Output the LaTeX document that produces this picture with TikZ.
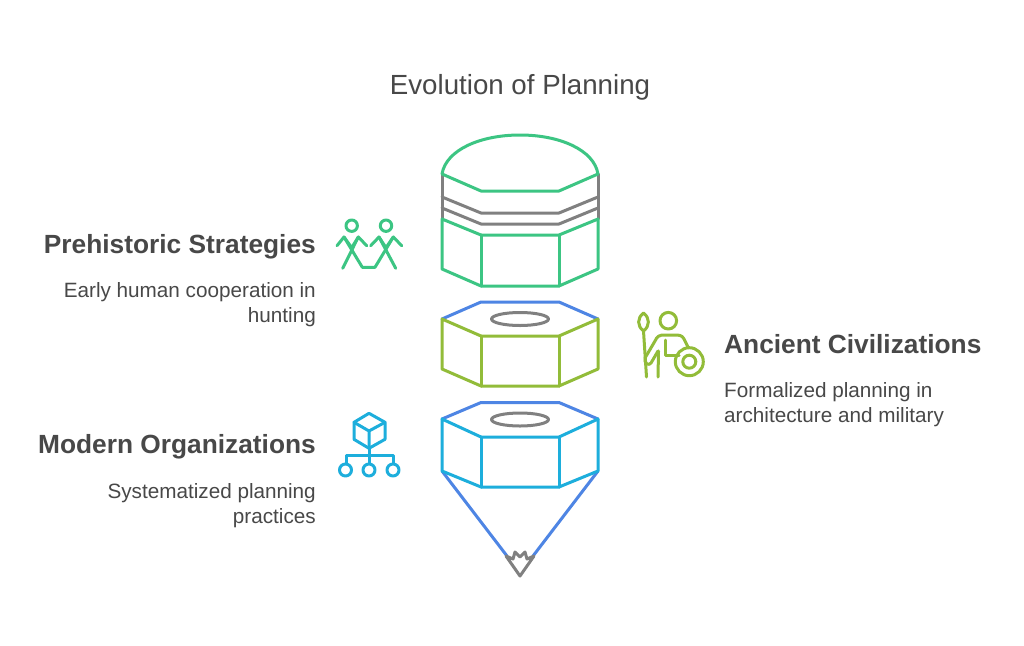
\documentclass[tikz,border=0pt]{standalone}
\usepackage{fontspec}
\setmainfont{Liberation Sans}
\definecolor{cgreen}{HTML}{3CC583}
\definecolor{cgray}{HTML}{808080}
\definecolor{cblue}{HTML}{4E85E4}
\definecolor{colive}{HTML}{92BC39}
\definecolor{ccyan}{HTML}{1DAEDC}
\definecolor{ctext}{HTML}{484848}
\tikzset{
 ln/.style={line width=3pt,line join=round,line cap=round},
 ic/.style={line width=3pt,line join=round,line cap=round},
 titletext/.style={text=ctext,font=\fontsize{27.7}{30}\selectfont,inner sep=0pt,anchor=base},
 headtext/.style={text=ctext,font=\fontsize{26.3}{30}\selectfont\bfseries,inner sep=0pt},
 bodytext/.style={text=ctext,font=\fontsize{20.7}{25}\selectfont,inner sep=0pt},
}
\begin{document}
\begin{tikzpicture}[x=1pt,y=-1pt]
\useasboundingbox (0,0) rectangle (1024,645);
\fill[white] (0,0) rectangle (1024,645);
% text
\node[titletext] (title) at (520,94) {Evolution of Planning};
\node[headtext,anchor=base east] (h1) at (316,253) {Prehistoric Strategies};
\node[bodytext,anchor=base east] (b1a) at (316,297) {Early human cooperation in};
\node[bodytext,anchor=base east] (b1b) at (316,322) {hunting};
\node[headtext,anchor=base west] (h2) at (724,353) {Ancient Civilizations};
\node[bodytext,anchor=base west] (b2a) at (724,397) {Formalized planning in};
\node[bodytext,anchor=base west] (b2b) at (724,422) {architecture and military};
\node[headtext,anchor=base east] (h3) at (316,453) {Modern Organizations};
\node[bodytext,anchor=base east] (b3a) at (316,498) {Systematized planning};
\node[bodytext,anchor=base east] (b3b) at (316,523) {practices};
% top block
\draw[ln,cgray] (442,174)--(442,219) (598,174)--(598,219);
\draw[ln,cgray] (442,197)--(481,213)--(559,213)--(598,197);
\draw[ln,cgray] (442,208)--(481,224)--(559,224)--(598,208);
\draw[ln,cgreen] (442,174) .. controls (446,150) and (480,135) .. (520,135) .. controls (560,135) and (594,150) .. (598,174)--(559,191)--(481,191)--cycle;
\draw[ln,cgreen] (442,219)--(481,235)--(559,235)--(598,219)--(598,269)--(559,286)--(481,286)--(442,269)--cycle;
\draw[ln,cgreen] (481,235)--(481,286) (559,235)--(559,286);
% middle block
\draw[ln,cblue] (442,319)--(481,302)--(559,302)--(598,319);
\draw[ln,colive] (442,319)--(481,336)--(559,336)--(598,319)--(598,369)--(559,386)--(481,386)--(442,369)--cycle;
\draw[ln,colive] (481,336)--(481,386) (559,336)--(559,386);
\draw[ln,cgray] (520,319) ellipse [x radius=28.5,y radius=6.5];
% lower block
\draw[ln,cblue] (442,419)--(481,402.5)--(559,402.5)--(598,419);
\draw[ln,cblue] (442,471)--(507,556) (598,471)--(533,556);
\draw[ln,ccyan] (442,419)--(481,437)--(559,437)--(598,419)--(598,471)--(559,487)--(481,487)--(442,471)--cycle;
\draw[ln,ccyan] (481,437)--(481,487) (559,437)--(559,487);
\draw[ln,cgray] (520,419.5) ellipse [x radius=28.5,y radius=6.5];
\draw[ln,cgray] (506,556)--(513,559)--(515,552)--(520,557)--(525,552)--(527,559)--(534,556)--(520,576)--cycle;
% people icon
\begin{scope}[ic,cgreen]
\draw (351.7,225.7) circle [radius=5.7];
\draw (386,225.7) circle [radius=5.7];
\draw (337,245.7)--(344,237)--(351.7,247.7)--(358.3,237)--(366.7,245.7);
\draw (370.7,245.7)--(379,237)--(386,247.7)--(393.3,237)--(401.7,245.7);
\draw (358.3,237)--(342.7,268.3);
\draw (344,237)--(362.3,267.3)--(375,267.3)--(393.3,237);
\draw (379,237)--(395.7,268.3);
\end{scope}
% warrior icon
\begin{scope}[ic,colive]
\draw (668.3,320.7) circle [radius=8.3];
\draw (643.5,313) .. controls (637,318) and (637,326) .. (643.5,331) .. controls (650,326) and (650,318) .. (643.5,313) -- cycle;
\draw (643.5,331)--(646.5,377);
\draw (645,358) -- (655,341) .. controls (657,336) and (660,335) .. (664,335) -- (674,335) .. controls (679,335) and (682,335) .. (684,339) -- (688,347);
\draw (645,358) .. controls (644,364) and (649,366) .. (651,363) -- (658,351);
\draw (658.5,351)--(658,377);
\draw (665,340)--(665,355)--(679,355);
\draw (689.3,361.7) circle [radius=14];
\draw (689.3,361.7) circle [radius=6.5];
\end{scope}
% org icon
\begin{scope}[ic,ccyan]
\draw (369,413.3)--(385,422.3)--(385,439.3)--(369,448.3)--(354,439.3)--(354,422.3)--cycle;
\draw (354,422.3)--(369,431)--(385,422.3) (369,431)--(369,448.3);
\draw (369,448.3)--(369,463);
\draw (346,463)--(346,455)--(393,455)--(393,463);
\draw (345.5,470) circle [radius=6];
\draw (369,470) circle [radius=6];
\draw (393,470) circle [radius=6];
\end{scope}
\end{tikzpicture}
\end{document}
